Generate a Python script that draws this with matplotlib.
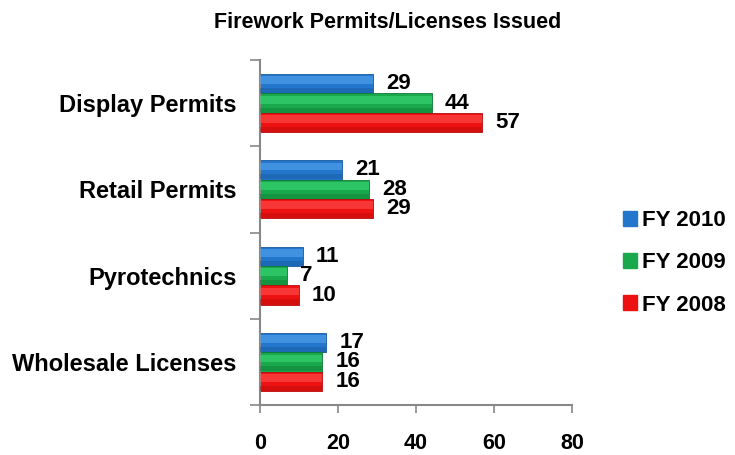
import matplotlib.pyplot as plt
import numpy as np

plt.rcParams['font.family'] = ['Liberation Sans', 'DejaVu Sans']

categories = ['Display Permits', 'Retail Permits', 'Pyrotechnics', 'Wholesale Licenses']
series = ['FY 2010', 'FY 2009', 'FY 2008']
fy2010 = [29, 21, 11, 17]
fy2009 = [44, 28, 7, 16]
fy2008 = [57, 29, 10, 16]
values = [fy2010, fy2009, fy2008]
colors = ['#2277cc', '#19a84c', '#ee1111']
light = ['#5aa8f0', '#3fdc7a', '#ff5555']
dark = ['#17589a', '#0f7a35', '#b80c0c']
xticks = [0, 20, 40, 60, 80]

fig = plt.figure(figsize=(7.35, 4.55), dpi=100)
ax = fig.add_axes([260 / 735, 1 - 405 / 455, 312 / 735, 345 / 455])

y = np.arange(len(categories))[::-1].astype(float)
h = 0.225
offsets = [h, 0, -h]

for i, (vals, name) in enumerate(zip(values, series)):
    yy = y + offsets[i]
    ax.barh(yy, vals, height=h, color=colors[i], edgecolor=dark[i],
            linewidth=0.6, label=name, zorder=2)
    # shading for the raised look
    ax.barh(yy + h * 0.18, vals, height=h * 0.4, color=light[i],
            linewidth=0, alpha=0.55, zorder=3)
    ax.barh(yy - h * 0.36, vals, height=h * 0.26, color=dark[i],
            linewidth=0, alpha=0.45, zorder=3)
    for v, yv in zip(vals, yy):
        ax.text(v + 3.3, yv, str(v), va='center', ha='left',
                fontsize=16, fontweight='bold', zorder=4)

ax.set_xlim(0, 80)
ax.set_ylim(-0.5, len(categories) - 0.5)
ax.set_xticks(xticks)
ax.set_xticklabels([str(t) for t in xticks], fontsize=15.5, fontweight='bold')
ax.tick_params(axis='x', direction='out', length=6, color='#888888', width=1.2, pad=14)

ax.set_yticks(y)
ax.set_yticklabels(categories, fontsize=17, fontweight='bold')
ax.tick_params(axis='y', which='major', length=0, pad=17)
ax.set_yticks(np.arange(-0.5, len(categories), 1.0), minor=True)
ax.tick_params(axis='y', which='minor', length=7, color='#888888', width=1.2)

for s in ['top', 'right']:
    ax.spines[s].set_visible(False)
for s in ['left', 'bottom']:
    ax.spines[s].set_color('#888888')
    ax.spines[s].set_linewidth(1.5)

fig.text(388 / 735, 1 - 22 / 455, 'Firework Permits/Licenses Issued',
         ha='center', va='center', fontsize=15.5, fontweight='bold')

handles = [plt.Rectangle((0, 0), 1, 1, color=c) for c in colors]
fig.legend(handles, series, loc='center left', bbox_to_anchor=(603 / 735, 1 - 263 / 455),
           frameon=False, prop={'size': 16, 'weight': 'bold'},
           handlelength=0.65, handleheight=0.65, handletextpad=0.2, labelspacing=0.95)

fig.savefig('out.png', dpi=100)
